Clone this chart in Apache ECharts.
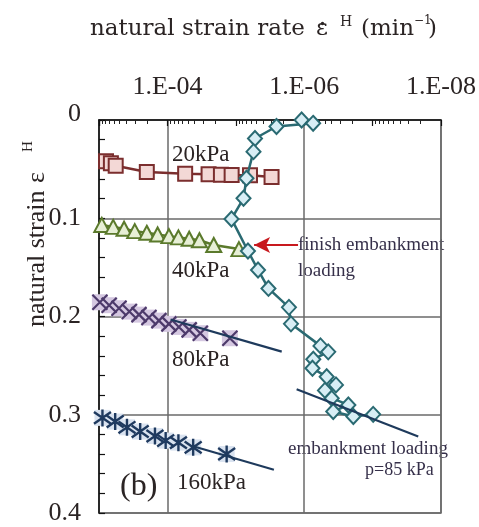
<!DOCTYPE html>
<html>
<head>
<meta charset="utf-8">
<script src="https://cdn.jsdelivr.net/npm/echarts@6/dist/echarts.min.js"></script>
<style>
  html, body { margin: 0; padding: 0; background: #ffffff; }
  #chart { width: 479px; height: 527px; }
</style>
</head>
<body>
<div id="chart"></div>
<script>
// Strain rate (1/min) and natural strain for each creep stage
const rate20   = [7.9e-4, 6.7e-4, 5.7e-4, 2.0e-4, 5.5e-5, 2.5e-5, 1.65e-5, 1.15e-5, 6.2e-6, 3.0e-6];
const strain20 = [0.042, 0.044, 0.0465, 0.053, 0.0546, 0.0553, 0.0556, 0.056, 0.0563, 0.058];

const rate40   = [9.1e-4, 6.2e-4, 4.3e-4, 3.0e-4, 2.0e-4, 1.39e-4, 9.5e-5, 6.9e-5, 4.8e-5, 3.4e-5, 2.1e-5, 9.0e-6];
const strain40 = [0.1068, 0.1088, 0.1107, 0.1131, 0.1148, 0.1165, 0.1182, 0.1195, 0.1209, 0.1224, 0.1272, 0.1314];

const rate80   = [9.7e-4, 7.1e-4, 5.1e-4, 3.6e-4, 2.6e-4, 1.86e-4, 1.33e-4, 9.5e-5, 6.8e-5, 4.8e-5, 3.3e-5, 1.22e-5];
const strain80 = [0.1855, 0.1885, 0.1916, 0.195, 0.1981, 0.2011, 0.2042, 0.2075, 0.2106, 0.2136, 0.217, 0.2221];

const rate160   = [8.9e-4, 5.8e-4, 3.9e-4, 2.5e-4, 1.52e-4, 1.06e-4, 6.9e-5, 4.2e-5, 1.36e-5];
const strain160 = [0.3032, 0.3069, 0.3128, 0.3171, 0.3216, 0.3263, 0.3284, 0.3332, 0.34];

// Embankment loading (p = 85 kPa)
const rateEmb   = [1.09e-6, 7.4e-7, 2.54e-6, 5.24e-6, 5.51e-6, 6.98e-6, 7.71e-6, 1.156e-5, 6.64e-6, 4.73e-6,
                   3.33e-6, 1.67e-6, 1.56e-6, 5.78e-7, 4.45e-7, 7.36e-7, 7.57e-7, 4.69e-7, 3.43e-7, 4.97e-7,
                   3.96e-7, 2.26e-7, 3.76e-7, 1.91e-7, 9.8e-8];
const strainEmb = [0.0, 0.0034, 0.0066, 0.0188, 0.0322, 0.0593, 0.0797, 0.1007, 0.1333, 0.1526,
                   0.1714, 0.1907, 0.2075, 0.2299, 0.236, 0.2436, 0.2526, 0.2614, 0.2696, 0.2752,
                   0.2831, 0.29, 0.2967, 0.3018, 0.2996];

// Straight trend lines (rate, strain end points)
const trend80Rate    = [9.0e-5, 2.13e-6];
const trend80Strain  = [0.203, 0.2357];
const trend160Rate   = [4.2e-5, 2.77e-6];
const trend160Strain = [0.332, 0.356];
const trendEmbRate   = [1.29e-6, 2.15e-8];
const trendEmbStrain = [0.274, 0.3222];

// "finish embankment loading" pointer: tail -> head
const arrowRate   = [1.23e-6, 5.4e-6];
const arrowStrain = [0.1272, 0.1272];

// Axis ranges
const rateMin = 1e-8, rateMax = 1e-3;
const strainTicks = [0, 0.1, 0.2, 0.3, 0.4];

const pairs = (xs, ys) => xs.map((x, i) => [x, ys[i]]);

const SERIF = '"Liberation Serif", "DejaVu Serif", "Times New Roman", serif';
const WIDE = '"DejaVu Serif", "Liberation Serif", serif';
const INK = '#2b2424';
const NOTE = '#36304a';

const C20 = '#7b2e2e', F20 = '#f3d8d6';
const C40 = '#5b7a2c', F40 = '#e7efd6';
const C80 = '#4d3a6b', F80 = '#d5c8e1';
const C160 = '#1f3a5f', F160 = '#dae3f0';
const CEMB = '#2a6a72', FEMB = '#d8eef5';
const CTREND = '#1e3a5c';

function rateLabel(v) {
  const e = Math.round(Math.log10(v));
  if (e % 2 !== 0) return '';
  const n = -e;
  return '1.E-' + (n < 10 ? '0' + n : n);
}

const chart = echarts.init(document.getElementById('chart'), null, { renderer: 'canvas' });

const textEl = (text, x, y, size, color, family) => ({
  type: 'text', x: x, y: y,
  style: { text: text, font: size + 'px ' + (family || SERIF), fill: color || INK, textVerticalAlign: 'middle', textAlign: 'left' }
});

chart.setOption({
  animation: false,
  backgroundColor: '#ffffff',
  grid: { left: 99, top: 120, width: 342, height: 393, show: true, borderColor: '#6a6a6a', borderWidth: 1.5, backgroundColor: 'transparent' },
  xAxis: {
    type: 'log', logBase: 10, min: rateMin, max: rateMax, inverse: true, position: 'top', splitNumber: 5,
    axisLine: { show: true, onZero: false, lineStyle: { color: '#111', width: 1.5 } },
    axisTick: { show: true, inside: true, length: 6, lineStyle: { color: '#111', width: 1.2 } },
    minorTick: { show: true, splitNumber: 9, length: 4, lineStyle: { color: '#222', width: 1 } },
    axisLabel: { formatter: rateLabel, fontFamily: SERIF, fontSize: 26, color: INK, margin: 20 },
    splitLine: { show: true, lineStyle: { color: ['#6a6a6a', 'rgba(0,0,0,0)'], width: 1.5 } }
  },
  yAxis: {
    type: 'value', min: strainTicks[0], max: strainTicks[strainTicks.length - 1], interval: 0.1, inverse: true,
    axisLine: { show: true, onZero: false, lineStyle: { color: '#111', width: 1.5 } },
    axisTick: { show: true, inside: true, length: 6, lineStyle: { color: '#111', width: 1.2 } },
    minorTick: { show: true, splitNumber: 5, length: 6, lineStyle: { color: '#111', width: 1.2 } },
    axisLabel: {
      formatter: v => (v === 0 ? '{top|0}' : v.toFixed(1)),
      fontFamily: SERIF, fontSize: 26, color: INK, margin: 18,
      rich: { top: { fontFamily: SERIF, fontSize: 26, color: INK, padding: [0, 0, 12, 0] } }
    },
    splitLine: { show: true, lineStyle: { color: '#6a6a6a', width: 1.5 } }
  },
  series: [
    {
      type: 'line', name: '20kPa', data: pairs(rate20, strain20), clip: false,
      symbol: 'rect', symbolSize: 14,
      lineStyle: { color: C20, width: 2.5 },
      itemStyle: { color: F20, borderColor: C20, borderWidth: 2 }, z: 3
    },
    {
      type: 'line', name: '40kPa', data: pairs(rate40, strain40), clip: false,
      symbol: 'triangle', symbolSize: [15, 14],
      lineStyle: { color: C40, width: 2.5 },
      itemStyle: { color: F40, borderColor: C40, borderWidth: 2 }, z: 3
    },
    {
      type: 'scatter', name: '80kPa fill', data: pairs(rate80, strain80), clip: false,
      symbol: 'rect', symbolSize: 16, itemStyle: { color: F80, opacity: 1 }, z: 3
    },
    {
      type: 'scatter', name: '80kPa', data: pairs(rate80, strain80), clip: false,
      symbol: 'path://M0,0L10,10M10,0L0,10', symbolSize: 15,
      itemStyle: { color: 'rgba(0,0,0,0)', borderColor: C80, borderWidth: 2.2, opacity: 1 }, z: 3
    },
    {
      type: 'scatter', name: '160kPa fill', data: pairs(rate160, strain160), clip: false,
      symbol: 'rect', symbolSize: 16, itemStyle: { color: F160, opacity: 1 }, z: 3
    },
    {
      type: 'scatter', name: '160kPa', data: pairs(rate160, strain160), clip: false,
      symbol: 'path://M5,0L5,10M0,1.5L10,8.5M10,1.5L0,8.5', symbolSize: 17,
      itemStyle: { color: 'rgba(0,0,0,0)', borderColor: C160, borderWidth: 2.4, opacity: 1 }, z: 3
    },
    {
      type: 'line', name: 'embankment', data: pairs(rateEmb, strainEmb), clip: false,
      symbol: 'diamond', symbolSize: [14, 15],
      lineStyle: { color: CEMB, width: 2.5 },
      itemStyle: { color: FEMB, borderColor: CEMB, borderWidth: 2 }, z: 4
    },
    {
      type: 'line', name: 'trend 80kPa', data: pairs(trend80Rate, trend80Strain), symbol: 'none',
      lineStyle: { color: CTREND, width: 2.2 }, z: 5
    },
    {
      type: 'line', name: 'trend 160kPa', data: pairs(trend160Rate, trend160Strain), symbol: 'none',
      lineStyle: { color: CTREND, width: 2.2 }, z: 5
    },
    {
      type: 'line', name: 'trend embankment', data: pairs(trendEmbRate, trendEmbStrain), symbol: 'none',
      lineStyle: { color: CTREND, width: 2.2 }, z: 5
    },
    {
      type: 'line', name: 'pointer', data: pairs(arrowRate, arrowStrain), symbol: 'none',
      lineStyle: { opacity: 0 }, z: 6,
      markLine: {
        silent: true, animation: false,
        symbol: ['none', 'arrow'], symbolSize: [12, 16],
        label: { show: false },
        lineStyle: { color: '#c8191e', width: 2, type: 'solid' },
        data: [[{ coord: [arrowRate[0], arrowStrain[0]] }, { coord: [arrowRate[1], arrowStrain[1]] }]]
      }
    }
  ],
  graphic: [
    // top axis title
    textEl('natural strain rate', 90, 29, 23, INK, WIDE),
    textEl('\u03b5', 316, 29, 23, INK, WIDE),
    { type: 'circle', shape: { cx: 322.5, cy: 23.5, r: 1.7 }, style: { fill: INK } },
    textEl('H', 340, 22, 14, INK, WIDE),
    textEl('(min', 361, 29, 23, INK, WIDE),
    textEl('\u22121', 414, 21, 12, INK, WIDE),
    textEl(')', 428, 29, 23, INK, WIDE),
    // left axis title (reads bottom to top)
    {
      type: 'group', x: 45, y: 327, rotation: Math.PI / 2,
      children: [
        textEl('natural strain', 0, -8, 26),
        textEl('\u03b5', 144, -8, 26),
        textEl('H', 175, -17, 15)
      ]
    },
    // stage labels and notes
    textEl('20kPa', 172, 155, 23),
    textEl('40kPa', 172, 271, 23),
    textEl('80kPa', 172, 360, 23),
    textEl('160kPa', 177, 483, 23),
    textEl('(b)', 120, 487, 32),
    textEl('finish embankment', 298, 245, 19, NOTE),
    textEl('loading', 298, 271, 19, NOTE),
    textEl('embankment loading', 288, 449, 19, NOTE),
    textEl('p=85 kPa', 365, 470, 18, NOTE)
  ]
});
</script>
</body>
</html>
